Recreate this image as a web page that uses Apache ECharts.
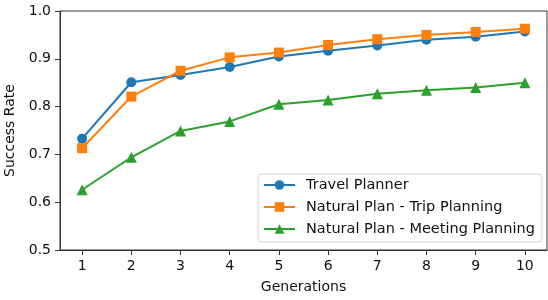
<!DOCTYPE html>
<html>
<head>
<meta charset="utf-8">
<script src="https://cdn.jsdelivr.net/npm/echarts@6/dist/echarts.min.js"></script>
<style>
  html, body { margin: 0; padding: 0; background: #fff; }
  #chart { width: 548px; height: 300px; }
</style>
</head>
<body>
<div id="chart"></div>
<script>
const generations = [1, 2, 3, 4, 5, 6, 7, 8, 9, 10]
const travelPlanner = [0.733, 0.851, 0.866, 0.883, 0.905, 0.917, 0.928, 0.940, 0.946, 0.957]
const tripPlanning = [0.713, 0.821, 0.875, 0.903, 0.913, 0.929, 0.941, 0.950, 0.956, 0.963]
const meetingPlanning = [0.626, 0.694, 0.749, 0.769, 0.805, 0.814, 0.827, 0.834, 0.840, 0.850]
const yTicks = [0.5, 0.6, 0.7, 0.8, 0.9, 1.0]

const font = 'DejaVu Sans'
const chart = echarts.init(document.getElementById('chart'), null, {renderer: 'canvas'})

function pairs(vals) {
  return vals.map((v, i) => [generations[i], v])
}

function makeSeries(name, vals, color, symbol, size) {
  return {
    name: name,
    type: 'line',
    data: pairs(vals),
    symbol: symbol,
    symbolSize: size,
    showSymbol: true,
    lineStyle: {color: color, width: 2},
    itemStyle: {color: color},
    emphasis: {disabled: true},
    animation: false
  }
}

const option = {
  backgroundColor: '#ffffff',
  textStyle: {fontFamily: font},
  grid: {
    left: 60, right: 1, top: 11, bottom: 50,
    containLabel: false, outerBoundsMode: 'none',
    show: true, borderColor: '#333', borderWidth: 1
  },
  legend: {
    orient: 'vertical',
    left: 258, top: 174,
    padding: [3, 7, 5, 5],
    itemWidth: 31, itemHeight: 12, itemGap: 6,
    backgroundColor: '#fff',
    borderColor: '#d6d6d6', borderWidth: 1, borderRadius: 3,
    textStyle: {fontFamily: font, fontSize: 14.5, lineHeight: 16, color: '#111', padding: [0, 0, 0, 6]},
    data: ['Travel Planner', 'Natural Plan - Trip Planning', 'Natural Plan - Meeting Planning']
  },
  xAxis: {
    type: 'value',
    min: 0.55, max: 10.45,
    name: 'Generations',
    nameLocation: 'middle', nameGap: 30,
    nameTextStyle: {fontFamily: font, fontSize: 14, color: '#111'},
    axisLine: {show: true, lineStyle: {color: '#333', width: 1}},
    axisTick: {show: true, length: 5, lineStyle: {color: '#333'}, customValues: generations},
    axisLabel: {fontFamily: font, fontSize: 14, color: '#111', margin: 9, customValues: generations},
    splitLine: {show: false}
  },
  yAxis: {
    type: 'value',
    min: 0.5, max: 1.0,
    name: 'Success Rate',
    nameLocation: 'middle', nameGap: 38,
    nameTextStyle: {fontFamily: font, fontSize: 14, color: '#111'},
    axisLine: {show: true, lineStyle: {color: '#333', width: 1}},
    axisTick: {show: true, length: 5, lineStyle: {color: '#333'}, customValues: yTicks},
    axisLabel: {
      fontFamily: font, fontSize: 14, color: '#111', margin: 9,
      customValues: yTicks,
      formatter: v => v.toFixed(1)
    },
    splitLine: {show: false}
  },
  series: [
    makeSeries('Travel Planner', travelPlanner, '#1f77b4', 'circle', 10),
    makeSeries('Natural Plan - Trip Planning', tripPlanning, '#ff7f0e', 'rect', 10),
    makeSeries('Natural Plan - Meeting Planning', meetingPlanning, '#2ca02c', 'triangle', 11)
  ]
}

chart.setOption(option)
</script>
</body>
</html>
